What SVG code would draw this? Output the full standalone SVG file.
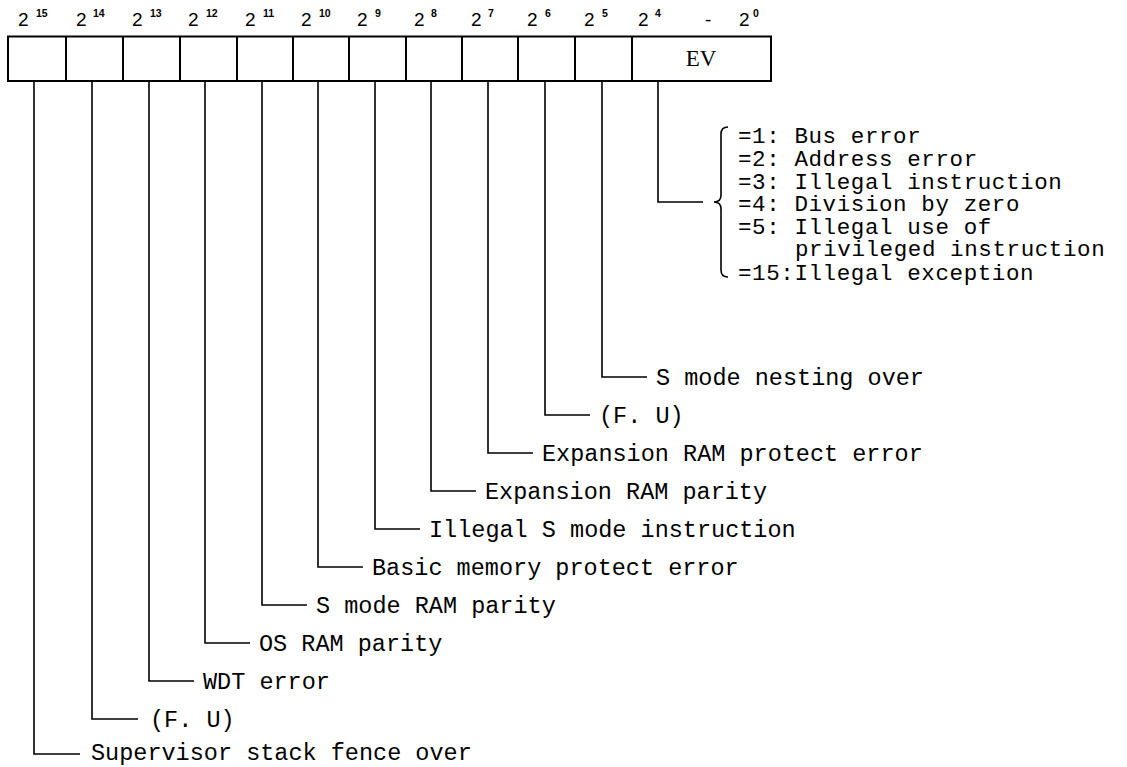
<svg xmlns="http://www.w3.org/2000/svg" width="1127" height="767" viewBox="0 0 1127 767">
  <style>
    .bit { font-family: "Liberation Sans", Arial, sans-serif; font-size: 19px; fill: #000; }
    .sup { font-family: "Liberation Sans", Arial, sans-serif; font-size: 10.5px; font-weight: bold; fill: #000; }
    .cell { fill: none; stroke: #000; stroke-width: 2; }
    .lbl { font-family: "Liberation Mono", "Courier New", monospace; font-size: 23.5px; fill: #000; }
    .code { font-family: "Liberation Mono", "Courier New", monospace; font-size: 22.5px; letter-spacing: 0.6px; fill: #000; }
    .wire { fill: none; stroke: #000; stroke-width: 1.6; }
  </style>
  <rect width="1127" height="767" fill="#fff"/>

  <!-- bit weight header -->
  <g id="header">
    <text class="bit" x="18" y="26">2</text><text class="sup" x="36" y="17">15</text>
    <text class="bit" x="76" y="26">2</text><text class="sup" x="93" y="17">14</text>
    <text class="bit" x="132" y="26">2</text><text class="sup" x="150" y="17">13</text>
    <text class="bit" x="188" y="26">2</text><text class="sup" x="206" y="17">12</text>
    <text class="bit" x="245" y="26">2</text><text class="sup" x="263" y="17">11</text>
    <text class="bit" x="301" y="26">2</text><text class="sup" x="319" y="17">10</text>
    <text class="bit" x="357" y="26">2</text><text class="sup" x="375" y="17">9</text>
    <text class="bit" x="414" y="26">2</text><text class="sup" x="431" y="17">8</text>
    <text class="bit" x="471" y="26">2</text><text class="sup" x="488" y="17">7</text>
    <text class="bit" x="527" y="26">2</text><text class="sup" x="545" y="17">6</text>
    <text class="bit" x="584" y="26">2</text><text class="sup" x="602" y="17">5</text>
    <text class="bit" x="638" y="26">2</text><text class="sup" x="655" y="17">4</text>
    <text class="bit" x="705" y="26">-</text>
    <text class="bit" x="739" y="26">2</text><text class="sup" x="753" y="17">0</text>
  </g>

  <!-- register cells -->
  <g id="register">
    <rect class="cell" x="8" y="36.5" width="763" height="44.5"/>
    <path class="cell" d="M66 36.5V81M123 36.5V81M180 36.5V81M237 36.5V81M293 36.5V81M349 36.5V81M406 36.5V81M462 36.5V81M518 36.5V81M575 36.5V81M632 36.5V81"/>
    <text x="701" y="66" text-anchor="middle" font-family="Liberation Serif, serif" font-size="23">EV</text>
  </g>

  <!-- leader lines from each bit -->
  <g id="connectors">
    <path class="wire" d="M34 81V754H80"/>
    <path class="wire" d="M92 81V719H138"/>
    <path class="wire" d="M149 81V681H194"/>
    <path class="wire" d="M205 81V643H250"/>
    <path class="wire" d="M262 81V605H307"/>
    <path class="wire" d="M318 81V567H363"/>
    <path class="wire" d="M375 81V529H420"/>
    <path class="wire" d="M431 81V491H476"/>
    <path class="wire" d="M488 81V453H533"/>
    <path class="wire" d="M545 81V415H590"/>
    <path class="wire" d="M602 81V377H647"/>
    <path class="wire" d="M658 81V202H703"/>
    <path class="wire" d="M728 127Q721 127 721 134V195Q721 202 714 202Q721 202 721 209V270Q721 277 728 277"/>
  </g>

  <!-- bit descriptions -->
  <g id="bit15"><text class="lbl" x="91" y="760">Supervisor stack fence over</text></g>
  <g id="bit14"><text class="lbl" x="150" y="727">(F. U)</text></g>
  <g id="bit13"><text class="lbl" x="203" y="689">WDT error</text></g>
  <g id="bit12"><text class="lbl" x="259" y="651">OS RAM parity</text></g>
  <g id="bit11"><text class="lbl" x="316" y="613">S mode RAM parity</text></g>
  <g id="bit10"><text class="lbl" x="372" y="575">Basic memory protect error</text></g>
  <g id="bit9"><text class="lbl" x="429" y="537">Illegal S mode instruction</text></g>
  <g id="bit8"><text class="lbl" x="485" y="499">Expansion RAM parity</text></g>
  <g id="bit7"><text class="lbl" x="542" y="461">Expansion RAM protect error</text></g>
  <g id="bit6"><text class="lbl" x="599" y="423">(F. U)</text></g>
  <g id="bit5"><text class="lbl" x="656" y="385">S mode nesting over</text></g>

  <!-- exception vector codes -->
  <g id="ev-codes">
    <text class="code" x="738" y="143">=1: Bus error</text>
    <text class="code" x="738" y="166">=2: Address error</text>
    <text class="code" x="738" y="189">=3: Illegal instruction</text>
    <text class="code" x="738" y="211">=4: Division by zero</text>
    <text class="code" x="738" y="234">=5: Illegal use of</text>
    <text class="code" x="795" y="256">privileged instruction</text>
    <text class="code" x="738" y="280">=15:Illegal exception</text>
  </g>
</svg>
